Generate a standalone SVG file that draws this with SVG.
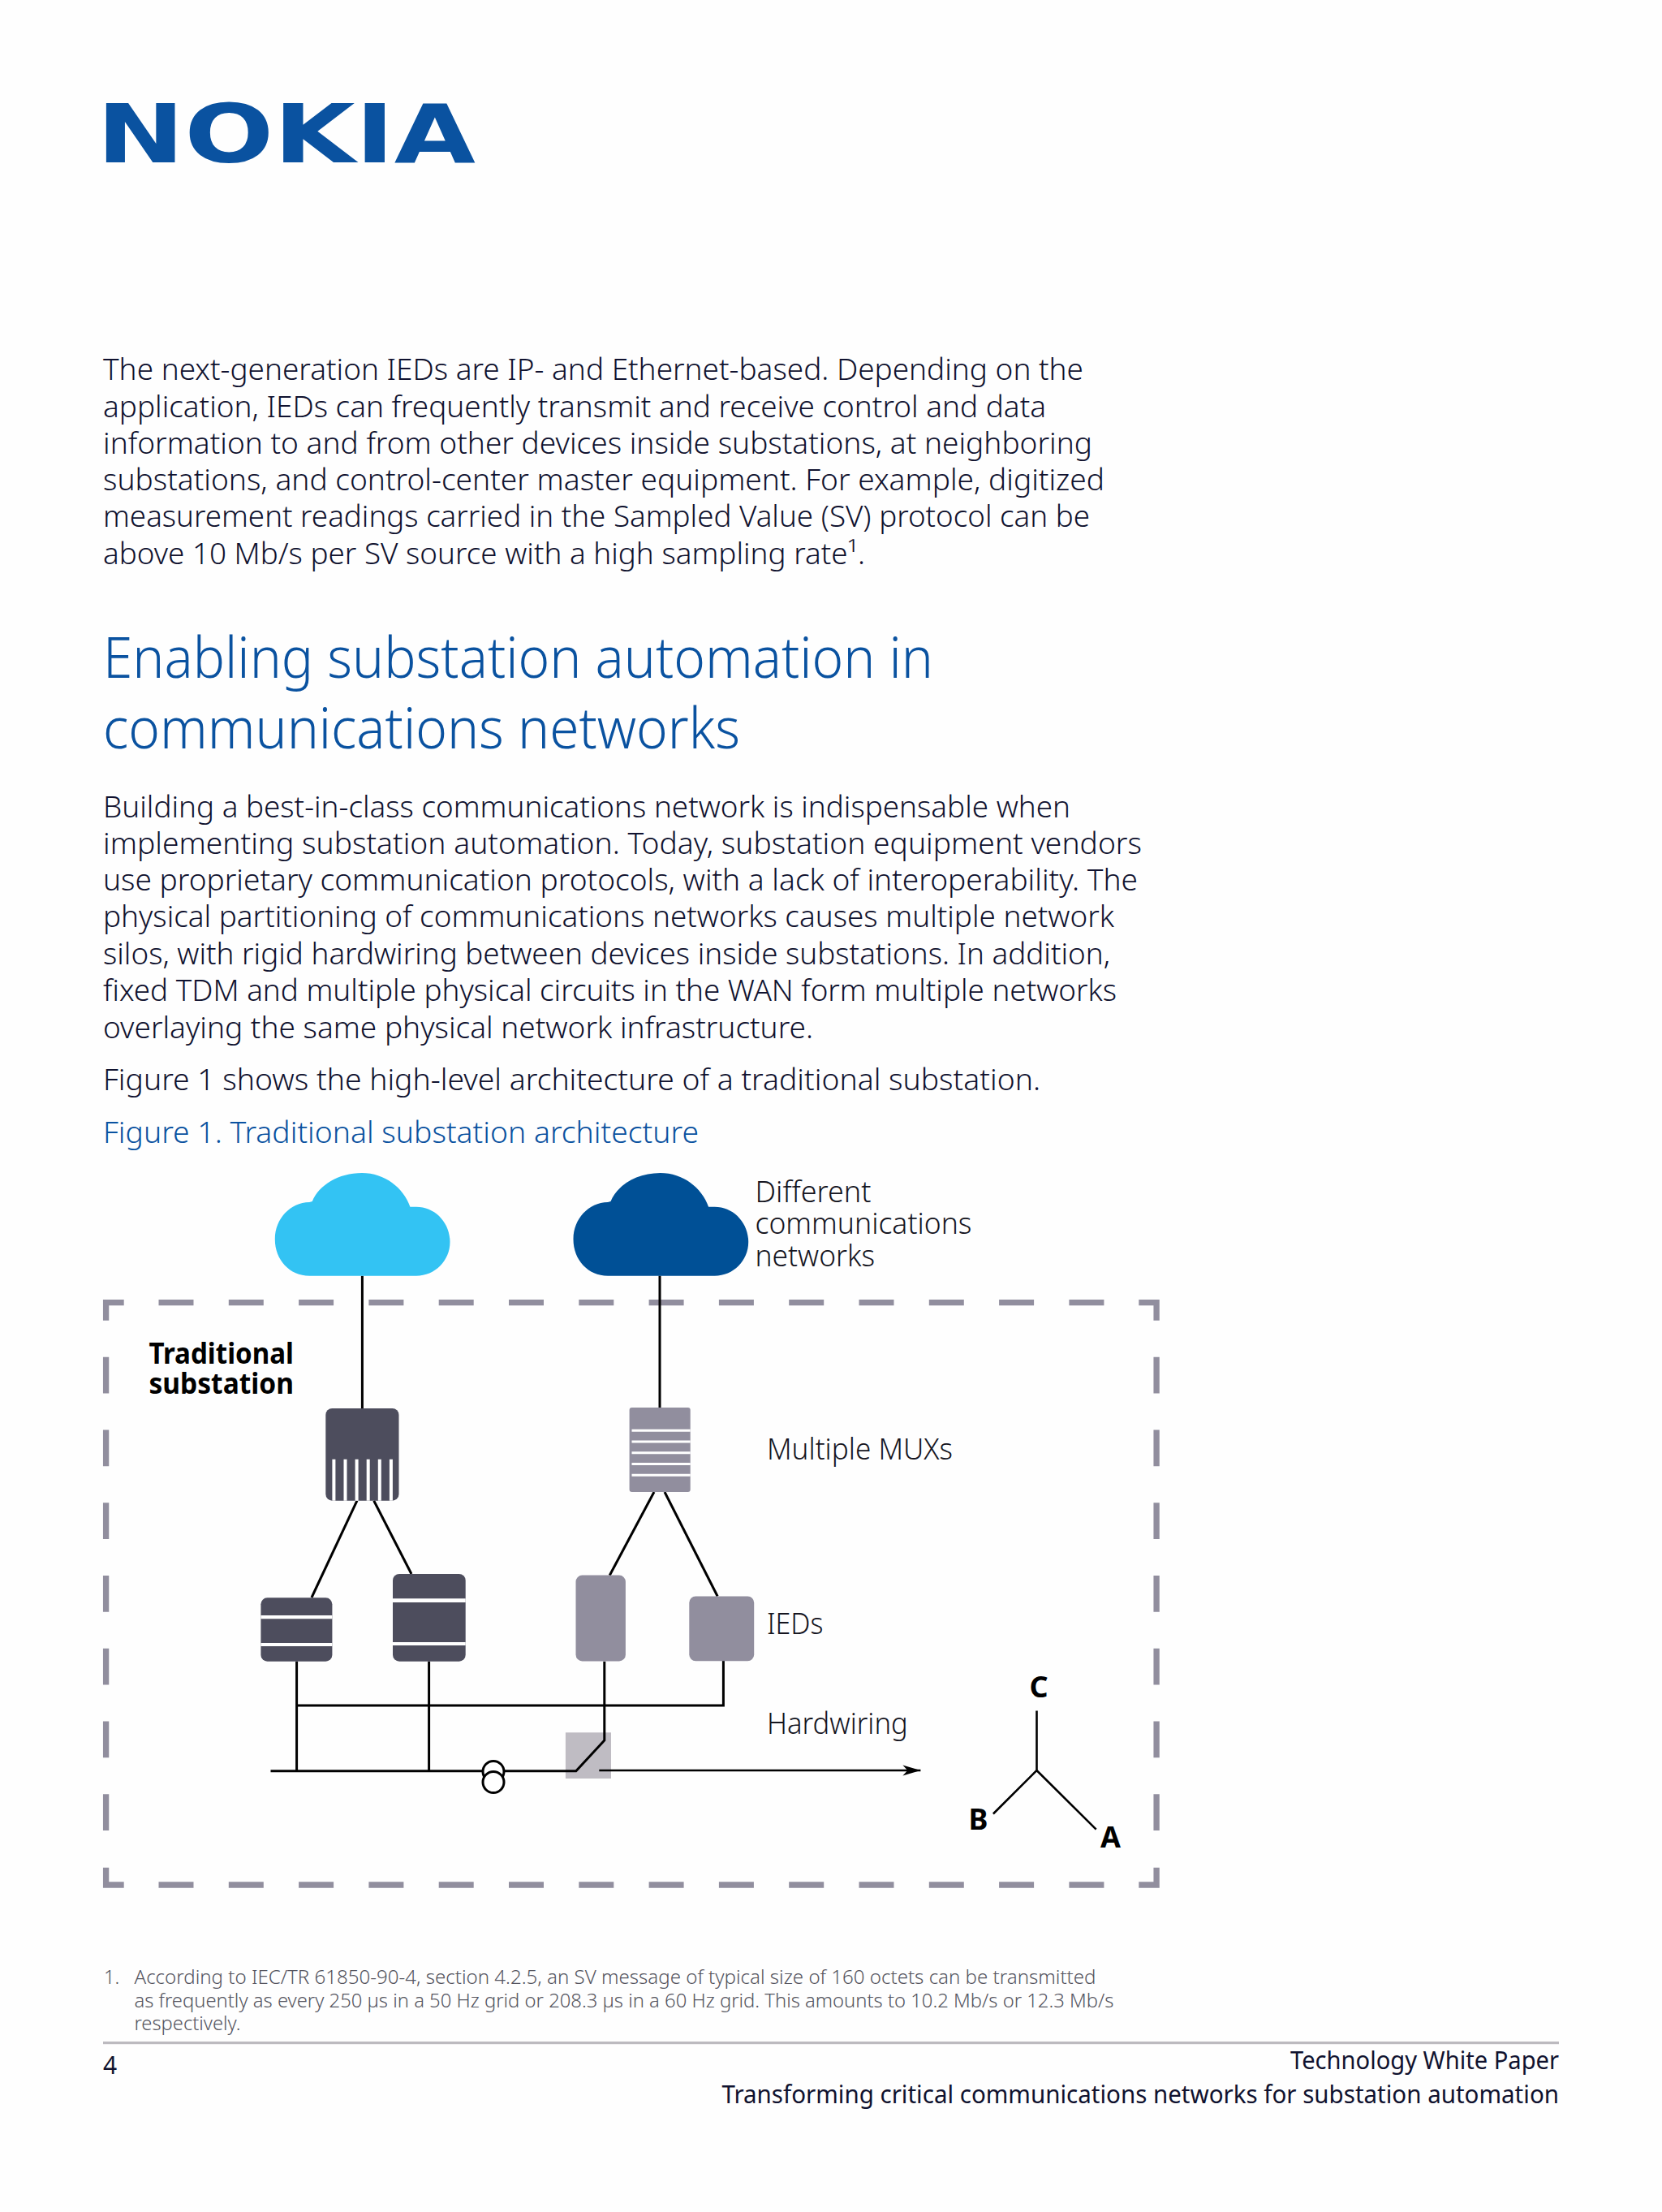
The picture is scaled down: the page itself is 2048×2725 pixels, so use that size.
<svg xmlns="http://www.w3.org/2000/svg" width="2048" height="2725" viewBox="0 0 2048 2725">
<style>
text{font-family:"Noto Sans","Open Sans","Liberation Sans",sans-serif}
.b{font-size:37px;font-weight:300;fill:#10122f}
.h{font-size:70px;font-weight:300;fill:#0a52a0}
.c{font-size:37px;font-weight:300;fill:#0a52a0}
.l{font-size:37px;font-weight:300;fill:#15151f}
.t{font-size:36px;font-weight:700;fill:#000}
.f{font-size:23.5px;font-weight:300;fill:#55555f}
.p{font-size:30px;font-weight:400;fill:#10122f}
.w{fill:none;stroke:#000;stroke-width:3}
.dash{fill:none;stroke:#918e9e;stroke-width:7.3}
.dk{fill:#4d4d5d}
.gr{fill:#918e9e}
.st{fill:#fff}
</style>
<defs>
<path id="cloud" d="M381.3 1571.7C357 1571.7 338.8 1552 338.8 1526.7C338.8 1502 357 1481.5 381.3 1481L384.8 1480C393 1460 417 1445 446 1445C474 1445 497 1463 505.4 1486.7L513 1486.7C536 1486.7 554.5 1506 554.5 1530C554.5 1553 536 1571.7 513 1571.7Z"/>
<marker id="arr" markerUnits="userSpaceOnUse" markerWidth="24" markerHeight="14" refX="22" refY="7" orient="auto"><path d="M0 0.5L22 7L0 13.5L6 7Z" fill="#000"/></marker>
</defs>
<rect width="2048" height="2725" fill="#fefefe"/>
<g id="logo"><text x="119" y="200.4" font-size="99.5" font-weight="700" textLength="467" lengthAdjust="spacingAndGlyphs" style="font-family:'DejaVu Sans',sans-serif" fill="#0a52a0">NOKIA</text></g>
<g id="intro">
<text class="b" x="127" y="468.3" textLength="1208" lengthAdjust="spacingAndGlyphs">The next-generation IEDs are IP- and Ethernet-based. Depending on the</text>
<text class="b" x="127" y="513.7" textLength="1162" lengthAdjust="spacingAndGlyphs">application, IEDs can frequently transmit and receive control and data</text>
<text class="b" x="127" y="559" textLength="1219" lengthAdjust="spacingAndGlyphs">information to and from other devices inside substations, at neighboring</text>
<text class="b" x="127" y="604" textLength="1234" lengthAdjust="spacingAndGlyphs">substations, and control-center master equipment. For example, digitized</text>
<text class="b" x="127" y="649.3" textLength="1216" lengthAdjust="spacingAndGlyphs">measurement readings carried in the Sampled Value (SV) protocol can be</text>
<text class="b" x="127" y="694.5" textLength="939" lengthAdjust="spacingAndGlyphs">above 10 Mb/s per SV source with a high sampling rate¹.</text>
</g>
<g id="heading">
<text class="h" x="127" y="835" textLength="1023" lengthAdjust="spacingAndGlyphs">Enabling substation automation in</text>
<text class="h" x="127" y="921.8" textLength="785" lengthAdjust="spacingAndGlyphs">communications networks</text>
</g>
<g id="body">
<text class="b" x="127" y="1006.5" textLength="1192" lengthAdjust="spacingAndGlyphs">Building a best-in-class communications network is indispensable when</text>
<text class="b" x="127" y="1052" textLength="1280" lengthAdjust="spacingAndGlyphs">implementing substation automation. Today, substation equipment vendors</text>
<text class="b" x="127" y="1097.3" textLength="1275" lengthAdjust="spacingAndGlyphs">use proprietary communication protocols, with a lack of interoperability. The</text>
<text class="b" x="127" y="1142.3" textLength="1246" lengthAdjust="spacingAndGlyphs">physical partitioning of communications networks causes multiple network</text>
<text class="b" x="127" y="1188" textLength="1241" lengthAdjust="spacingAndGlyphs">silos, with rigid hardwiring between devices inside substations. In addition,</text>
<text class="b" x="127" y="1233.3" textLength="1249" lengthAdjust="spacingAndGlyphs">fixed TDM and multiple physical circuits in the WAN form multiple networks</text>
<text class="b" x="127" y="1278.7" textLength="875" lengthAdjust="spacingAndGlyphs">overlaying the same physical network infrastructure.</text>
<text class="b" x="127" y="1343.3" textLength="1155" lengthAdjust="spacingAndGlyphs">Figure 1 shows the high-level architecture of a traditional substation.</text>
<text class="c" x="127" y="1408.3" textLength="734" lengthAdjust="spacingAndGlyphs">Figure 1. Traditional substation architecture</text>
</g>
<g id="substation-boundary">
<path class="dash" d="M130.6 1626.7V1604.7H152.7M195.5 1604.7h43M281.8 1604.7h43M368.1 1604.7h43M454.4 1604.7h43M540.7 1604.7h43M627 1604.7h43M713.3 1604.7h43M799.6 1604.7h43M885.9 1604.7h43M972.2 1604.7h43M1058.5 1604.7h43M1144.8 1604.7h43M1231.1 1604.7h43M1317.4 1604.7h43M1403.3 1604.7H1425.1V1626.7"/>
<path class="dash" d="M130.6 2300.7V2322H152.7M195.5 2322h43M281.8 2322h43M368.1 2322h43M454.4 2322h43M540.7 2322h43M627 2322h43M713.3 2322h43M799.6 2322h43M885.9 2322h43M972.2 2322h43M1058.5 2322h43M1144.8 2322h43M1231.1 2322h43M1317.4 2322h43M1403.3 2322H1425.1V2300.7"/>
<path class="dash" d="M130.6 1671.7v44.7M130.6 1761.5v44.7M130.6 1851.2v44.7M130.6 1941v44.7M130.6 2030.7v44.7M130.6 2120.5v44.7M130.6 2210.2v44.7M1425.1 1671.7v44.7M1425.1 1761.5v44.7M1425.1 1851.2v44.7M1425.1 1941v44.7M1425.1 2030.7v44.7M1425.1 2120.5v44.7M1425.1 2210.2v44.7"/>
</g>
<g id="switch-bg"><rect x="696.9" y="2134.3" width="56.1" height="56.7" fill="#bfbcc3"/></g>
<g id="connectors">
<path class="w" d="M446.4 1571.7V1735"/>
<path class="w" d="M813 1571.5V1734"/>
<path class="w" d="M440 1848.7L384 1968"/>
<path class="w" d="M460.7 1848.7L507 1939"/>
<path class="w" d="M806 1838L751.2 1940.8"/>
<path class="w" d="M819 1838L884.2 1966.5"/>
<path class="w" d="M365.6 2046.7V2181.7"/>
<path class="w" d="M528.6 2046.7V2181.7"/>
<path class="w" d="M744.8 2046.7V2144L709.8 2181.7H333.5"/>
<path class="w" d="M891.4 2046V2101H365.6"/>
<path d="M738.3 2181H1134.4" fill="none" stroke="#000" stroke-width="2.6" marker-end="url(#arr)"/>
</g>
<g id="transformer">
<circle cx="608" cy="2182.5" r="13" fill="#fff" stroke="#000" stroke-width="3"/>
<circle cx="608" cy="2195.5" r="13" fill="#fff" stroke="#000" stroke-width="3"/>
</g>
<g id="cloud-1"><use href="#cloud" fill="#33c3f3"/></g>
<g id="cloud-2"><use href="#cloud" x="367.7" fill="#005096"/></g>
<g id="label-networks">
<text class="l" x="930.5" y="1480.5" textLength="143" lengthAdjust="spacingAndGlyphs">Different</text>
<text class="l" x="930.5" y="1520" textLength="267" lengthAdjust="spacingAndGlyphs">communications</text>
<text class="l" x="930.5" y="1559.5" textLength="147.5" lengthAdjust="spacingAndGlyphs">networks</text>
</g>
<g id="label-substation">
<text class="t" x="183.5" y="1680" textLength="178.5" lengthAdjust="spacingAndGlyphs">Traditional</text>
<text class="t" x="183.5" y="1717" textLength="178.5" lengthAdjust="spacingAndGlyphs">substation</text>
</g>
<g id="mux-1">
<rect class="dk" x="401.3" y="1735" width="90.2" height="113.7" rx="8"/>
<path class="st" d="M409.4 1797.7h4v51h-4zM423.5 1797.7h4v51h-4zM437.6 1797.7h4v51h-4zM451.7 1797.7h4v51h-4zM465.8 1797.7h4v51h-4zM479.9 1797.7h4v51h-4z"/>
</g>
<g id="mux-2">
<rect class="gr" x="775.6" y="1734" width="75.1" height="104" rx="3"/>
<path class="st" d="M778.5 1760.8h72.2v3h-72.2zM778.5 1774.6h72.2v3h-72.2zM778.5 1788.3h72.2v3h-72.2zM778.5 1802h72.2v3h-72.2zM778.5 1815.8h72.2v3h-72.2z"/>
</g>
<g id="ied-1">
<rect class="dk" x="321.4" y="1968.3" width="88" height="78.4" rx="8"/>
<path class="st" d="M321.4 1990h88v4.3h-88zM321.4 2024h88v4h-88z"/>
</g>
<g id="ied-2">
<rect class="dk" x="484" y="1939" width="89.7" height="107.7" rx="8"/>
<path class="st" d="M484 1969.3h89.7v4.7h-89.7zM484 2023h89.7v4h-89.7z"/>
</g>
<g id="ied-3"><rect class="gr" x="709.5" y="1940.6" width="61.4" height="105.8" rx="8"/></g>
<g id="ied-4"><rect class="gr" x="849.3" y="1966.5" width="79.9" height="79.8" rx="8"/></g>
<g id="label-mux"><text class="l" x="945" y="1798" textLength="229" lengthAdjust="spacingAndGlyphs">Multiple MUXs</text></g>
<g id="label-ieds"><text class="l" x="945" y="2013" textLength="69.5" lengthAdjust="spacingAndGlyphs">IEDs</text></g>
<g id="label-hardwiring"><text class="l" x="945" y="2135.5" textLength="173.7" lengthAdjust="spacingAndGlyphs">Hardwiring</text></g>
<g id="phases">
<path fill="none" stroke="#000" stroke-width="2.6" d="M1277.5 2107.4V2181L1223.9 2234.5M1277.5 2181L1350.7 2253.7"/>
<text class="t" x="1280" y="2091" text-anchor="middle">C</text>
<text class="t" x="1205.5" y="2254" text-anchor="middle">B</text>
<text class="t" x="1368.5" y="2275.5" text-anchor="middle">A</text>
</g>
<g id="footnote">
<text class="f" x="128" y="2444">1.</text>
<text class="f" x="165.5" y="2444" textLength="1185" lengthAdjust="spacingAndGlyphs">According to IEC/TR 61850-90-4, section 4.2.5, an SV message of typical size of 160 octets can be transmitted</text>
<text class="f" x="165.5" y="2472.7" textLength="1207" lengthAdjust="spacingAndGlyphs">as frequently as every 250 µs in a 50 Hz grid or 208.3 µs in a 60 Hz grid. This amounts to 10.2 Mb/s or 12.3 Mb/s</text>
<text class="f" x="165.5" y="2501.3" textLength="131" lengthAdjust="spacingAndGlyphs">respectively.</text>
</g>
<g id="footer">
<rect x="127" y="2515" width="1794" height="3.2" fill="#bcbabf"/>
<text class="p" x="127" y="2554.5">4</text>
<text class="p" x="1590" y="2549.3" textLength="331" lengthAdjust="spacingAndGlyphs">Technology White Paper</text>
<text class="p" x="889.5" y="2590.7" textLength="1031.5" lengthAdjust="spacingAndGlyphs">Transforming critical communications networks for substation automation</text>
</g>
</svg>
